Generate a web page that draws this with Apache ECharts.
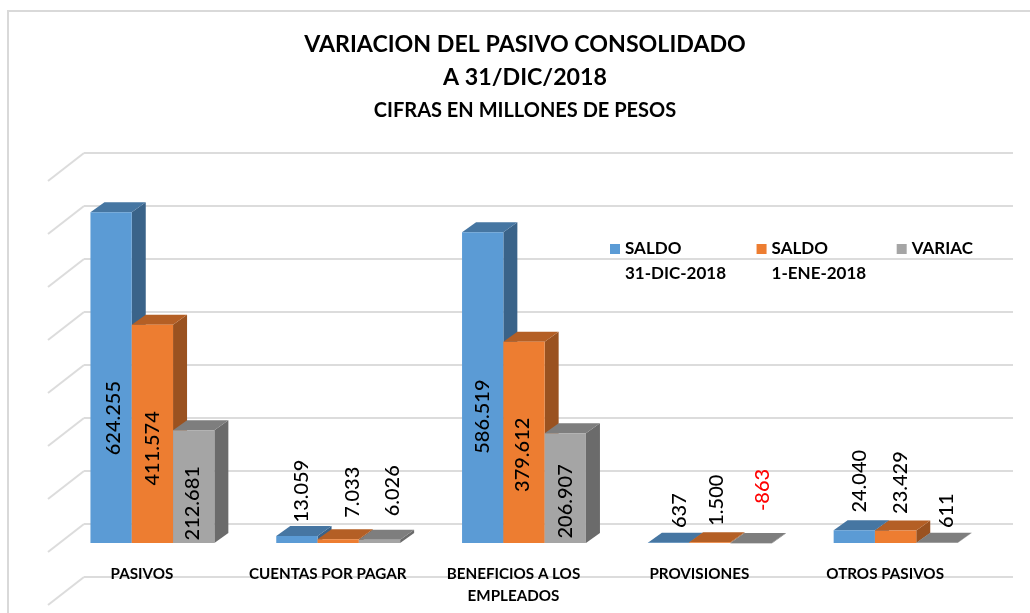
<!DOCTYPE html>
<html>
<head>
<meta charset="utf-8">
<style>html,body{margin:0;padding:0;background:#fff}#c{width:1030px;height:613px}</style>
<script src="https://cdn.jsdelivr.net/npm/echarts@6/dist/echarts.min.js"></script>
</head>
<body>
<div id="c"></div>
<script>
var categories = ['PASIVOS', 'CUENTAS POR PAGAR', 'BENEFICIOS A LOS\nEMPLEADOS', 'PROVISIONES', 'OTROS PASIVOS'];
var saldoDic = [624255, 13059, 586519, 637, 24040];
var saldoEne = [411574, 7033, 379612, 1500, 23429];
var variac = [212681, 6026, 206907, -863, 611];
var seriesNames = ['SALDO\n31-DIC-2018', 'SALDO\n1-ENE-2018', 'VARIAC\n '];
var gridTicks = [-100000, 0, 100000, 200000, 300000, 400000, 500000, 600000, 700000];

/* styling and layout only, no data below */
var FONT = 'Lato';
var PALETTE = [
  {front: '#5B9BD5', top: '#4676A2', side: '#3A6389'},
  {front: '#ED7D31', top: '#B45F25', side: '#9A5220'},
  {front: '#A5A5A5', top: '#7E7E7E', side: '#6B6B6B'}
];
var BAR_W = 41.3, NEAR = [11.5, -9], FAR = [25.5, -19], FLOOR = [36, -28];
/* label anchor offset from the bar's centre-top, per series then category */
var LABEL_NUDGE = [
  [[2, 206], [5, -45], [0, 184.5], [11, -32], [5, -49]],
  [[0.5, 123.5], [14, -47], [-1, 113], [7, -42], [5, -48]],
  [[-1, 73], [13, -49], [0, 68], [11, -53], [10, -32]]
];

function fmt(v) {
  var s = String(Math.abs(v)).replace(/\B(?=(\d{3})+$)/g, '.');
  return (v < 0 ? '-' : '') + s;
}

function barRenderer(si) {
  var col = PALETTE[si];
  return function (params, api) {
    var cat = api.value(0), v = api.value(1);
    var base = api.coord([cat, 0]);
    var tip = api.coord([cat, v]);
    var cx = base[0] + NEAR[0] + (si - 1) * BAR_W;
    var x0 = cx - BAR_W / 2, x1 = cx + BAR_W / 2;
    var yb = Math.max(base[1], tip[1]) + NEAR[1];
    var yt = Math.min(base[1], tip[1]) + NEAR[1];
    var dx = FAR[0] - NEAR[0], dy = FAR[1] - NEAR[1];
    var n = LABEL_NUDGE[si][cat];
    return {
      type: 'group',
      children: [
        {type: 'polygon', shape: {points: [[x1, yt], [x1 + dx, yt + dy], [x1 + dx, yb + dy], [x1, yb]]}, style: {fill: col.side}},
        {type: 'polygon', shape: {points: [[x0, yt], [x0 + dx, yt + dy], [x1 + dx, yt + dy], [x1, yt]]}, style: {fill: col.top}},
        {type: 'rect', shape: {x: x0, y: yt, width: BAR_W, height: yb - yt}, style: {fill: col.front}},
        {type: 'text', x: cx + n[0], y: yt + n[1], rotation: Math.PI / 2, z2: 10,
          style: {text: fmt(v), align: 'center', verticalAlign: 'middle', font: '500 20px ' + FONT, fill: v < 0 ? '#FF0000' : '#000000'}}
      ]
    };
  };
}

function rows(arr) { return arr.map(function (v, i) { return [i, v]; }); }

var chart = echarts.init(document.getElementById('c'), null, {renderer: 'canvas'});
chart.setOption({
  backgroundColor: '#ffffff',
  animation: false,
  title: {
    left: 520, top: 23, textAlign: 'center', itemGap: 4,
    text: 'VARIACION DEL PASIVO CONSOLIDADO\nA 31/DIC/2018',
    subtext: 'CIFRAS EN MILLONES DE PESOS',
    textStyle: {fontFamily: FONT, fontSize: 23.2, fontWeight: 'bold', color: '#000', lineHeight: 33},
    subtextStyle: {fontFamily: FONT, fontSize: 20, fontWeight: 'bold', color: '#000', lineHeight: 26}
  },
  legend: {
    left: 610, top: 236, itemGap: 30.5, itemWidth: 10, itemHeight: 34, padding: 0,
    orient: 'horizontal', selectedMode: false,
    data: seriesNames.map(function (n, i) {
      return {name: n, icon: 'path://M0 0H10V10H0ZM0 34L0 34Z', itemStyle: {color: PALETTE[i].front}};
    }),
    textStyle: {fontFamily: FONT, fontSize: 17, fontWeight: 'bold', color: '#000', lineHeight: 25}
  },
  grid: [
    {left: 48, top: 181, width: 929, height: 424, outerBoundsMode: 'none'},
    {left: 84, top: 153, width: 929, height: 424, outerBoundsMode: 'none'}
  ],
  xAxis: [
    {gridIndex: 0, type: 'category', data: categories, position: 'bottom', offset: -53,
      axisLine: {show: false, onZero: false}, axisTick: {show: false},
      axisLabel: {interval: 0, margin: 11, padding: [0, 0, 0, 2], fontFamily: FONT, fontSize: 15.2, fontWeight: 'bold', color: '#000', lineHeight: 22}},
    {gridIndex: 1, type: 'category', data: categories, show: false}
  ],
  yAxis: [
    {gridIndex: 0, type: 'value', min: -100000, max: 700000, interval: 100000,
      axisLine: {show: false}, axisTick: {show: false}, axisLabel: {show: false}, splitLine: {show: false}},
    {gridIndex: 1, type: 'value', min: -100000, max: 700000, interval: 100000,
      axisLine: {show: false}, axisTick: {show: false}, axisLabel: {show: false},
      splitLine: {show: true, lineStyle: {color: '#DCDCDC', width: 2}}}
  ],
  graphic: [{
    type: 'polyline', silent: true, z: 0,
    shape: {points: [[8, 613], [8, 11], [1030, 11]]},
    style: {stroke: '#D9D9D9', lineWidth: 2, fill: null}
  }],
  series: [
    {type: 'custom', name: 'piso', xAxisIndex: 0, yAxisIndex: 0, silent: true, z: 1,
      data: gridTicks.map(function (t) { return [0, t]; }),
      encode: {x: 0, y: 1},
      renderItem: function (params, api) {
        var p = api.coord([0, api.value(1)]);
        var x = params.coordSys.x;
        return {type: 'line', shape: {x1: x, y1: p[1], x2: x + FLOOR[0], y2: p[1] + FLOOR[1]},
          style: {stroke: '#DCDCDC', lineWidth: 2}};
      }},
    {type: 'custom', name: seriesNames[0], xAxisIndex: 0, yAxisIndex: 0, z: 3, data: rows(saldoDic), encode: {x: 0, y: 1},
      itemStyle: {color: PALETTE[0].front}, renderItem: barRenderer(0)},
    {type: 'custom', name: seriesNames[1], xAxisIndex: 0, yAxisIndex: 0, z: 4, data: rows(saldoEne), encode: {x: 0, y: 1},
      itemStyle: {color: PALETTE[1].front}, renderItem: barRenderer(1)},
    {type: 'custom', name: seriesNames[2], xAxisIndex: 0, yAxisIndex: 0, z: 5, data: rows(variac), encode: {x: 0, y: 1},
      itemStyle: {color: PALETTE[2].front}, renderItem: barRenderer(2)}
  ]
});
</script>
</body>
</html>
